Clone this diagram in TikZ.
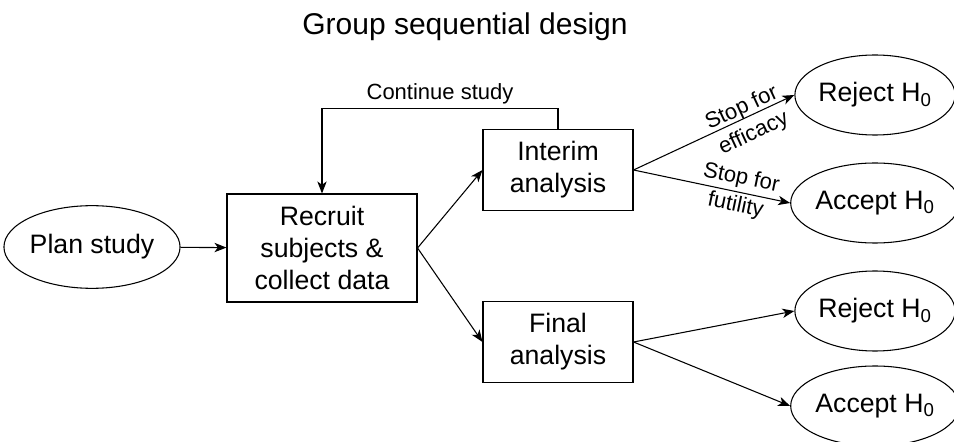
\documentclass[tikz,border=0pt]{standalone}
\usepackage{fontspec}
\setmainfont{Liberation Sans}
\usetikzlibrary{shapes.geometric,arrows.meta}
\begin{document}
\begin{tikzpicture}[x=0.75pt, y=-0.75pt, line width=0.8pt,
    stepbox/.style={draw, rectangle, align=center, inner sep=0pt,
      font=\fontsize{20}{24}\selectfont},
    oval/.style={draw, ellipse, align=center, inner sep=0pt,
      minimum width=120pt, minimum height=60pt,
      font=\fontsize{20}{24}\selectfont},
    edgetext/.style={font=\fontsize{16.5}{21}\selectfont, align=center},
    >={Stealth[length=9pt,width=7pt,inset=2.5pt]}]
  \useasboundingbox (0,0) rectangle (954,442);
  % title
  \node (title) at (465,27) {\fontsize{22.5}{24}\selectfont Group sequential design};
  % nodes
  \node[oval, minimum width=121.5pt, minimum height=62pt] (plan) at (92,247) {Plan study};
  \node[stepbox, minimum width=142.5pt, minimum height=81pt] (recruit) at (322,248)
    {Recruit\\subjects \&\\collect data};
  \node[stepbox, minimum width=112.5pt, minimum height=61pt] (interim) at (558,170)
    {Interim\\analysis};
  \node[stepbox, minimum width=112.5pt, minimum height=61pt] (final) at (558,342)
    {Final\\analysis};
  \node[oval] (rejectA) at (875,95) {Reject H\textsubscript{0}};
  \node[oval] (acceptA) at (875,203) {Accept H\textsubscript{0}};
  \node[oval] (rejectB) at (875,311) {Reject H\textsubscript{0}};
  \node[oval] (acceptB) at (875,406) {Accept H\textsubscript{0}};
  % connectors
  \draw[->] (plan) -- (recruit);
  \draw[->] (recruit.east) -- (interim.west);
  \draw[->] (recruit.east) -- (final.west);
  \draw[->] (interim.north) -- ++(0,-20) -| node[pos=0.25, above, edgetext] {Continue study}
    (recruit.north);
  \draw[->] (interim.east) -- node[pos=0.7, sloped, yshift=-3pt, edgetext] {Stop for\\efficacy} (rejectA.west);
  \draw[->] (interim.east) -- node[pos=0.67, sloped, edgetext] {Stop for\\futility} (acceptA.west);
  \draw[->] (final.east) -- (rejectB.west);
  \draw[->] (final.east) -- (acceptB.west);
\end{tikzpicture}
\end{document}
